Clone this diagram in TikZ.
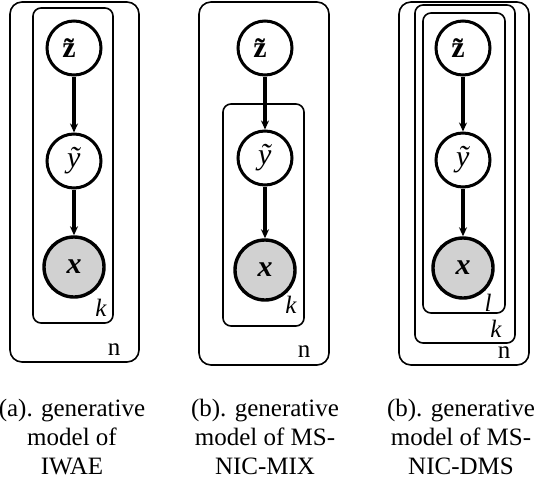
\documentclass[tikz,border=0pt]{standalone}
\usepackage{fontspec}
\setmainfont{Liberation Serif}
\usetikzlibrary{arrows.meta}

\tikzset{
  latent/.style={circle, draw, line width=3pt, minimum size=54pt, inner sep=0pt,
    font=\fontsize{30}{30}\selectfont},
  observed/.style={latent, fill=black!18, line width=3.4pt, minimum size=60pt},
  plate/.style={draw, line width=1.6pt, rounded corners=12pt},
  subplate/.style={plate, rounded corners=8pt},
  edge/.style={-{Stealth[length=9pt, width=8pt]}, line width=3.2pt},
  platelabel/.style={inner sep=0pt, font=\fontsize{25}{25}\selectfont},
  caption/.style={align=center, anchor=north, inner sep=0pt,
    font=\fontsize{25}{29}\selectfont}
}
\newcommand{\zt}{\textbf{\~{z}}}
\newcommand{\yt}{\textit{\~{y}}}
\newcommand{\xb}{\textbf{\textit{x}}}

\begin{document}
\begin{tikzpicture}[x=1pt, y=-1pt]
    %% Background
    \useasboundingbox (0,0) rectangle (536,482);

    %% (a) IWAE
    \draw[plate] (10,2) rectangle (139,362);
    \draw[subplate] (33,8) rectangle (113,323);
    \node[latent] (za) at (74,48) {\zt};
    \node[latent] (ya) at (74,161) {\yt};
    \node[observed] (xa) at (74,267) {\xb};
    \draw[edge] (za) -- (ya);
    \draw[edge] (ya) -- (xa);
    \node[platelabel] (ka) at (101,308) {\textit{k}};
    \node[platelabel] (na) at (114,350) {n};

    %% (b) MS-NIC-MIX
    \draw[plate] (199,2) rectangle (329,365);
    \draw[subplate] (223,104) rectangle (304,326);
    \node[latent] (zb) at (265,48) {\zt};
    \node[latent] (yb) at (265,158) {\yt};
    \node[observed] (xb) at (265,270) {\xb};
    \draw[edge] (zb) -- (yb);
    \draw[edge] (yb) -- (xb);
    \node[platelabel] (kb) at (291,305) {\textit{k}};
    \node[platelabel] (nb) at (304,352) {n};

    %% (b) MS-NIC-DMS
    \draw[plate] (399,2) rectangle (529,365);
    \draw[subplate] (415,5) rectangle (515,343);
    \draw[subplate] (423,13) rectangle (505,313);
    \node[latent] (zc) at (463,48) {\zt};
    \node[latent] (yc) at (463,160) {\yt};
    \node[observed] (xc) at (463,268) {\xb};
    \draw[edge] (zc) -- (yc);
    \draw[edge] (yc) -- (xc);
    \node[platelabel] (lc) at (488,303) {\textit{l}};
    \node[platelabel] (kc) at (496,329) {\textit{k}};
    \node[platelabel] (nc) at (504,353) {n};

    %% Captions
    \node[caption] (capa) at (72,399) {(a). generative\\model of\\IWAE};
    \node[caption] (capb) at (265,399) {(b). generative\\model of MS-\\NIC-MIX};
    \node[caption] (capc) at (461,399) {(b). generative\\model of MS-\\NIC-DMS};
\end{tikzpicture}
\end{document}
